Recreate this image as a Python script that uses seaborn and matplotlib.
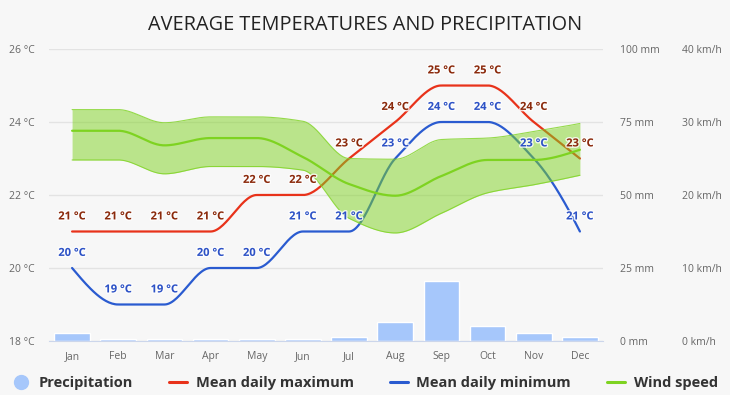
import numpy as np
import pandas as pd
import matplotlib
matplotlib.use("Agg")
import matplotlib.pyplot as plt
import matplotlib.patheffects as pe
from matplotlib.lines import Line2D
import seaborn as sns

months = ['Jan', 'Feb', 'Mar', 'Apr', 'May', 'Jun', 'Jul', 'Aug', 'Sep', 'Oct', 'Nov', 'Dec']
temp_max = [21, 21, 21, 21, 22, 22, 23, 24, 25, 25, 24, 23]
temp_min = [20, 19, 19, 20, 20, 21, 21, 23, 24, 24, 23, 21]
precip_mm = [2.6, 0.6, 0.6, 0.6, 0.6, 0.6, 1.5, 6.4, 20.4, 5.3, 2.7, 1.5]
wind_mean = [28.8, 28.8, 26.8, 27.8, 27.8, 25.2, 21.5, 19.9, 22.6, 24.8, 24.8, 26.2]
wind_low = [24.8, 24.8, 22.9, 23.9, 23.9, 23.4, 16.8, 14.8, 17.5, 20.3, 21.4, 22.7]
wind_high = [31.7, 31.7, 29.9, 30.7, 30.7, 30.1, 25.0, 24.9, 27.6, 27.8, 28.7, 29.8]

RED = '#e8321a'
BLUE = '#2a5bd0'
GREEN = '#7ed321'
BAR = '#a6c7fb'
GREY = '#666666'


def smooth(y, n=30):
    # monotone cubic curve through the monthly points (for drawing only)
    y = np.asarray(y, float)
    x = np.arange(len(y), dtype=float)
    d = np.diff(y)
    m = np.zeros_like(y)
    for k in range(1, len(y) - 1):
        if d[k - 1] * d[k] > 0:
            m[k] = 2 / (1 / d[k - 1] + 1 / d[k])
    for i, (a, b) in [(0, (d[0], d[1])), (-1, (d[-1], d[-2]))]:
        e = (3 * a - b) / 2
        if np.sign(e) != np.sign(a):
            e = 0
        elif np.sign(a) != np.sign(b) and abs(e) > 3 * abs(a):
            e = 3 * a
        m[i] = e
    xs, ys = [], []
    for k in range(len(y) - 1):
        t = np.linspace(0, 1, n, endpoint=False)
        h00 = 2 * t**3 - 3 * t**2 + 1
        h10 = t**3 - 2 * t**2 + t
        h01 = -2 * t**3 + 3 * t**2
        h11 = t**3 - t**2
        xs.append(x[k] + t)
        ys.append(h00 * y[k] + h10 * m[k] + h01 * y[k + 1] + h11 * m[k + 1])
    xs.append([x[-1]])
    ys.append([y[-1]])
    return np.concatenate(xs), np.concatenate(ys)


sns.set_style("white")
plt.rcParams['font.family'] = ['Open Sans', 'DejaVu Sans']

fig = plt.figure(figsize=(7.3, 3.95), dpi=100)
fig.patch.set_facecolor('#f7f7f7')
ax_mm = fig.add_axes([49 / 730, 54 / 395, 554 / 730, 292 / 395])
ax_mm.set_facecolor('#f7f7f7')

# precipitation bars
df = pd.DataFrame({'month': months, 'mm': precip_mm})
sns.barplot(data=df, x='month', y='mm', color=BAR, saturation=1, width=0.77, ax=ax_mm, zorder=2)
ax_mm.set_ylim(0, 100)
ax_mm.set_yticks([0, 25, 50, 75, 100])
ax_mm.set_yticklabels([f'{v} mm' for v in [0, 25, 50, 75, 100]])
ax_mm.tick_params(axis='x', length=4, width=1, color='#ccd6eb', direction='out', pad=3,
                  labelsize=7.5, labelcolor=GREY)
ax_mm.grid(axis='y', color='#e3e3e3', lw=1)
ax_mm.set_axisbelow(True)
ax_mm.set_xlabel('')
ax_mm.set_ylabel('')

# temperature axis
ax_t = ax_mm.twinx()
ax_t.yaxis.tick_left()
ax_t.set_ylim(18, 26)
ax_t.set_yticks([18, 20, 22, 24, 26])
ax_t.set_yticklabels([f'{v} °C' for v in [18, 20, 22, 24, 26]])
ax_t.tick_params(axis='y', length=0, pad=10.5, labelsize=7.5, labelcolor=GREY)

xs, ys = smooth(temp_max)
sns.lineplot(x=xs, y=ys, color=RED, lw=1.6, ax=ax_t)
xs, ys = smooth(temp_min)
sns.lineplot(x=xs, y=ys, color=BLUE, lw=1.6, ax=ax_t)

# wind axis
ax_w = ax_mm.twinx()
ax_w.set_ylim(0, 40)
ax_w.set_yticks([0, 10, 20, 30, 40])
ax_w.set_yticklabels([f'{v} km/h' for v in [0, 10, 20, 30, 40]])
ax_w.tick_params(axis='y', length=0, pad=57, labelsize=7.5, labelcolor=GREY)

# twinx moved the mm ticks to the left, put them back on the right
ax_mm.yaxis.tick_right()
ax_mm.tick_params(axis='y', length=0, pad=12, labelsize=7.5, labelcolor=GREY)

xs, lo = smooth(wind_low)
_, hi = smooth(wind_high)
ax_w.fill_between(xs, lo, hi, color=GREEN, alpha=0.5, lw=0)
ax_w.plot(xs, lo, color=GREEN, lw=0.8, alpha=0.8)
ax_w.plot(xs, hi, color=GREEN, lw=0.8, alpha=0.8)
xs, ys = smooth(wind_mean)
sns.lineplot(x=xs, y=ys, color=GREEN, lw=1.6, ax=ax_w)

# data labels on top of everything
outline = [pe.withStroke(linewidth=2, foreground='#ffffff', alpha=0.8)]
for i, v in enumerate(temp_max):
    ax_w.annotate(f'{v} °C', (i, v), xycoords=ax_t.transData, xytext=(0, 10.5),
                  textcoords='offset points', ha='center', va='center', fontsize=8,
                  fontweight='bold', color='#8b2a0c', path_effects=outline, zorder=10)
for i, v in enumerate(temp_min):
    ax_w.annotate(f'{v} °C', (i, v), xycoords=ax_t.transData, xytext=(0, 10.5),
                  textcoords='offset points', ha='center', va='center', fontsize=8,
                  fontweight='bold', color='#2d52c6', path_effects=outline, zorder=10)

for a in (ax_mm, ax_t, ax_w):
    for s in ('top', 'left', 'right'):
        a.spines[s].set_visible(False)
    a.set_xlim(-0.5, 11.5)
ax_t.spines['bottom'].set_visible(False)
ax_w.spines['bottom'].set_visible(False)
ax_mm.spines['bottom'].set_color('#ccd6eb')

fig.text(0.5, 1 - 25 / 395, 'AVERAGE TEMPERATURES AND PRECIPITATION', ha='center', va='center',
         fontsize=14.3, color='#222222')

handles = [
    Line2D([], [], marker='o', ls='none', markersize=10, color=BAR),
    Line2D([], [], color=RED, lw=2.2),
    Line2D([], [], color=BLUE, lw=2.2),
    Line2D([], [], color=GREEN, lw=2.2),
]
labels = ['Precipitation', 'Mean daily maximum', 'Mean daily minimum', 'Wind speed']
fig.legend(handles, labels, loc='center', bbox_to_anchor=(0.5, 1 - 383 / 395), ncol=4,
           frameon=False, handlelength=1.2, handletextpad=0.6, columnspacing=2.5,
           prop={'weight': 'bold', 'size': 10.5}, labelcolor='#333333')

fig.savefig('out.png', dpi=100, facecolor=fig.get_facecolor())
